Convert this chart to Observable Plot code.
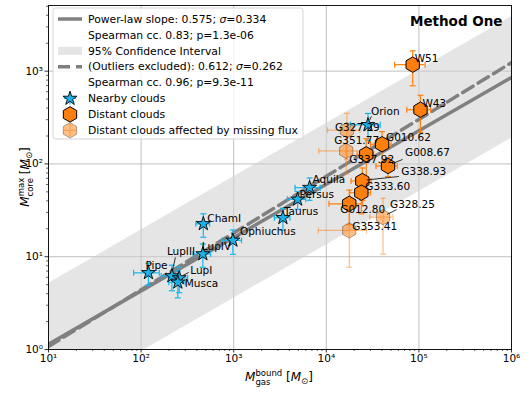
<!DOCTYPE html>
<html><head><meta charset="utf-8">
<script src="https://cdn.jsdelivr.net/npm/d3@7"></script>
<script src="https://cdn.jsdelivr.net/npm/@observablehq/plot@0.6"></script>
<style>
body{margin:0;background:#fff;}
#chart svg{font-family:"DejaVu Sans",sans-serif;}
</style></head><body><div id="chart"></div>
<script>
// ---- data ----
const nearbyNames   = ["Pipe","LupIII","LupI","Musca","LupIV","ChamI","Ophiuchus","Taurus","Persus","Aquila","Orion"];
const nearbyMgas    = [120, 215, 258, 249, 464, 470, 980, 3400, 4900, 6600, 28200];
const nearbyMcore   = [6.7, 6.2, 5.9, 5.3, 10.7, 22.6, 15, 26.3, 41.5, 55.5, 264];
const nearbyMgasErr = [37, 50, 60, 50, 100, 80, 235, 650, 1100, 2000, 10000];
const nearbyMcoreErr= [1.8, 1.9, 1.8, 1.7, 3, 6.4, 4.4, 7, 9, 15, 86];

const distantNames   = ["W51","W43","G010.62","G337.92","G008.67","G338.93","G333.60","G012.80"];
const distantMgas    = [85700, 104000, 40000, 27000, 46400, 24500, 23900, 17700];
const distantMcore   = [1175, 384, 163, 127, 95, 65.5, 49, 37.2];
const distantMgasErr = [31000, 30000, 10000, 5500, 12000, 6000, 6000, 7000];
const distantMcoreErr= [480, 165, 60, 60, 22, 25, 20, 15];

const mfNames   = ["G327.29","G351.77","G353.41","G328.25"];
const mfMgas    = [16700, 16400, 17700, 41000];
const mfMcore   = [231, 138, 19.2, 26.7];
const mfMgasErr = [6400, 8100, 9500, 11500];
const mfMcoreErr= [120, 60, 11.5, 16];

const fitSlopes = [0.575, 0.612];
const fitLogIntercepts = [-0.518, -0.580];
const fitSigma = [0.334, 0.262];
const spearmanCC = [0.83, 0.96];
const spearmanP = ["1.3e-06", "9.3e-11"];
const xTickValues = [1e1, 1e2, 1e3, 1e4, 1e5, 1e6];
const yTickValues = [1e0, 1e1, 1e2, 1e3];
const panelTitle = "Method One";

// label layout (pixel offsets: text start dx, center dy, optional leader end)
const labelLayout = {
  "Pipe":[-3,-7], "LupIII":[-5,-24,[4,-18]], "LupI":[11,-7,[10,-5]], "Musca":[7,1],
  "LupIV":[-1,-7], "ChamI":[4,-5], "Ophiuchus":[7,-9,[7,-4]], "Taurus":[1,-6],
  "Persus":[2,-5], "Aquila":[3,-8], "Orion":[3,-13,[4,-8]],
  "W51":[2,-6], "W43":[2,-6], "G010.62":[4,-7], "G337.92":[-17,5],
  "G008.67":[17,-13,[15,-6]], "G338.93":[39,-9,[37,-4]], "G333.60":[4,-6], "G012.80":[-9,6],
  "G327.29":[-12,-3], "G351.77":[-12,-10], "G353.41":[3,-4], "G328.25":[7,-13,[14,-7]]
};

// ---- build tables ----
const mk = (names, xs, ys, xe, ye) => names.map((name,i)=>({name, x:xs[i], y:ys[i], xe:xe[i], ye:ye[i]}));
const nearby = mk(nearbyNames, nearbyMgas, nearbyMcore, nearbyMgasErr, nearbyMcoreErr);
const distant = mk(distantNames, distantMgas, distantMcore, distantMgasErr, distantMcoreErr);
const missing = mk(mfNames, mfMgas, mfMcore, mfMgasErr, mfMcoreErr);
const allPts = [...nearby, ...distant, ...missing];

const fitX = xTickValues; // straight lines in log-log
const fitY = (k, x) => Math.pow(10, fitLogIntercepts[k] + fitSlopes[k]*Math.log10(x));
const band = 1.96*fitSigma[0];

const minorX = [], minorY = [];
xTickValues.slice(0,-1).forEach(v=>{for(let m=2;m<10;m++) minorX.push(v*m);});
[1,10,100,1000].forEach(v=>{for(let m=2;m<10;m++) if(v*m<=5100) minorY.push(v*m);});

const supMap = {"0":"⁰","1":"¹","2":"²","3":"³","4":"⁴","5":"⁵","6":"⁶","7":"⁷","8":"⁸","9":"⁹","-":"⁻"};
const fmtPow = v => "10" + String(Math.round(Math.log10(v))).split("").map(c=>supMap[c]).join("");

const hexagon = {draw(ctx, size){ const r=Math.sqrt(size/Math.PI); for(let i=0;i<6;i++){const a=Math.PI/3*i-Math.PI/2; const px=r*Math.cos(a), py=r*Math.sin(a); if(i) ctx.lineTo(px,py); else ctx.moveTo(px,py);} ctx.closePath(); }};
const capV = {draw(ctx,size){const r=Math.sqrt(size/Math.PI); ctx.moveTo(0,-r); ctx.lineTo(0,r);}};
const capH = {draw(ctx,size){const r=Math.sqrt(size/Math.PI); ctx.moveTo(-r,0); ctx.lineTo(r,0);}};

const CYAN = "#12b6ee", ORANGE = "#ff7f0e";
function errMarks(data, color, op){
  const s = {stroke: color, strokeOpacity: op, strokeWidth: 1.2};
  return [
    Plot.ruleY(data, {y:"y", x1:d=>d.x-d.xe, x2:d=>d.x+d.xe, ...s}),
    Plot.ruleX(data, {x:"x", y1:d=>Math.max(d.y-d.ye, 0.3), y2:d=>d.y+d.ye, ...s}),
    Plot.dot(data, {x:d=>d.x-d.xe, y:"y", symbol:capV, r:3, fill:"none", ...s}),
    Plot.dot(data, {x:d=>d.x+d.xe, y:"y", symbol:capV, r:3, fill:"none", ...s}),
    Plot.dot(data.filter(d=>d.y-d.ye>1), {x:"x", y:d=>d.y-d.ye, symbol:capH, r:3, fill:"none", ...s}),
    Plot.dot(data, {x:"x", y:d=>d.y+d.ye, symbol:capH, r:3, fill:"none", ...s}),
  ];
}

const plot = Plot.plot({
  width: 529, height: 394,
  marginLeft: 48, marginRight: 18, marginTop: 5, marginBottom: 45,
  x: {type:"log", domain:[10, 1e6], label:null},
  y: {type:"log", domain:[1, 5100], label:null},
  style: {fontFamily:"DejaVu Sans, sans-serif", fontSize:"10.5px", background:"white", color:"black"},
  marks: [
    Plot.gridX(xTickValues, {stroke:"#b0b0b0", strokeOpacity:1, strokeWidth:0.8}),
    Plot.gridY(yTickValues, {stroke:"#b0b0b0", strokeOpacity:1, strokeWidth:0.8}),
    Plot.areaY(fitX, {x:d=>d, y1:d=>fitY(0,d)/Math.pow(10,band), y2:d=>fitY(0,d)*Math.pow(10,band), fill:"#d0d0d0", fillOpacity:0.55, clip:true}),
    Plot.line(fitX, {x:d=>d, y:d=>fitY(0,d), stroke:"#808080", strokeWidth:3.5, clip:true}),
    Plot.line(fitX, {x:d=>d, y:d=>fitY(1,d), stroke:"#808080", strokeWidth:3.5, strokeDasharray:"12,6", clip:true}),
    ...errMarks(nearby, CYAN, 1),
    ...errMarks(distant, ORANGE, 1),
    ...errMarks(missing, ORANGE, 0.5),
    Plot.dot(nearby, {x:"x", y:"y", symbol:"star", r:4.4, fill:"#1ab2ea", stroke:"black", strokeWidth:0.9}),
    Plot.dot(distant, {x:"x", y:"y", symbol:hexagon, r:7.7, fill:ORANGE, stroke:"black", strokeWidth:1}),
    Plot.dot(missing, {x:"x", y:"y", symbol:hexagon, r:7.7, fill:ORANGE, fillOpacity:0.5, stroke:"black", strokeOpacity:0.3, strokeWidth:1}),
    ...allPts.map(p => Plot.text([p], {x:"x", y:"y", text:"name", textAnchor:"start", dx:labelLayout[p.name][0], dy:labelLayout[p.name][1], fontSize:10.5, fill:"black"})),
    Plot.text([panelTitle], {frameAnchor:"top-right", text:d=>d, dx:-9, dy:11, fontSize:13.5, fontWeight:"bold", fill:"black"}),
    Plot.axisX(minorX, {tickSize:2, tickFormat:()=>"", label:null, strokeWidth:0.6}),
    Plot.axisY(minorY, {tickSize:2, tickFormat:()=>"", label:null, strokeWidth:0.6}),
    Plot.axisX(xTickValues, {tickSize:3.5, tickPadding:2, tickFormat:fmtPow, label:null, fontSize:10.5, strokeWidth:0.8}),
    Plot.axisY(yTickValues, {tickSize:3.5, tickPadding:2, tickFormat:fmtPow, label:null, fontSize:10.5, strokeWidth:0.8}),
    Plot.frame({stroke:"black", strokeWidth:0.9}),
  ]
});
document.getElementById("chart").appendChild(plot);

// ---- post: leader lines, legend, axis labels ----
const svg = d3.select(plot);
const sx = plot.scale("x"), sy = plot.scale("y");
const leaders = svg.append("g").attr("stroke","black").attr("stroke-width",0.8);
allPts.forEach(p=>{
  const L = labelLayout[p.name][2]; if(!L) return;
  const px = sx.apply(p.x), py = sy.apply(p.y);
  const len = Math.hypot(L[0],L[1]); const s = Math.min(5, len*0.5)/len;
  leaders.append("line").attr("x1",px+L[0]*s).attr("y1",py+L[1]*s).attr("x2",px+L[0]).attr("y2",py+L[1]);
});

const lg = svg.append("g").attr("font-family","DejaVu Sans, sans-serif").attr("font-size",10.8).attr("text-anchor","start");
lg.append("rect").attr("x",53).attr("y",8).attr("width",250).attr("height",131).attr("rx",2.5)
  .attr("fill","white").attr("fill-opacity",0.8).attr("stroke","#cccccc").attr("stroke-width",0.8);
const rows = [
  {h:"solid", t:[`Power-law slope: ${fitSlopes[0]}; `, "σ", `=${fitSigma[0]}`]},
  {h:null, t:[`Spearman cc. ${spearmanCC[0]}; p=${spearmanP[0]}`]},
  {h:"band", t:["95% Confidence Interval"]},
  {h:"dash", t:[`(Outliers excluded): ${fitSlopes[1]}; `, "σ", `=${fitSigma[1]}`]},
  {h:null, t:[`Spearman cc. ${spearmanCC[1]}; p=${spearmanP[1]}`]},
  {h:"star", t:["Nearby clouds"]},
  {h:"hex", t:["Distant clouds"]},
  {h:"hexl", t:["Distant clouds affected by missing flux"]},
];
const rowY = i => 19 + i*15.9;
rows.forEach((r,i)=>{
  const y = rowY(i);
  if(r.h==="solid") lg.append("line").attr("x1",58).attr("x2",82).attr("y1",y).attr("y2",y).attr("stroke","#808080").attr("stroke-width",3.5);
  if(r.h==="dash") lg.append("line").attr("x1",58).attr("x2",82).attr("y1",y).attr("y2",y).attr("stroke","#808080").attr("stroke-width",3.5).attr("stroke-dasharray","12,6");
  if(r.h==="band") lg.append("rect").attr("x",58).attr("y",y-4).attr("width",24).attr("height",8).attr("fill","#d0d0d0").attr("fill-opacity",0.55);
  if(r.h==="star"||r.h==="hex"||r.h==="hexl"){
    const col = r.h==="star"?CYAN:ORANGE, op = r.h==="hexl"?0.5:1;
    const g = lg.append("g").attr("transform",`translate(70,${y})`);
    g.append("path").attr("d","M-6,0H6M0,-6V6").attr("stroke",col).attr("stroke-opacity",op).attr("stroke-width",1.2);
    const path = d3.path();
    if(r.h==="star"){ g.append("path").attr("d", d3.symbol(d3.symbolStar, 4.4*4.4*Math.PI)()).attr("fill","#1ab2ea").attr("stroke","black").attr("stroke-width",0.9); }
    else { hexagon.draw(path, 7.7*7.7*Math.PI); g.append("path").attr("d", path.toString()).attr("fill",ORANGE).attr("fill-opacity",op).attr("stroke","black").attr("stroke-opacity",r.h==="hexl"?0.3:1); }
  }
  const t = lg.append("text").attr("x",88).attr("y",y).attr("dy","0.35em").attr("fill","black").attr("text-anchor","start");
  r.t.forEach(s=>{ const ts=t.append("tspan").text(s); if(s==="σ") ts.attr("font-style","italic"); });
});

function mathLabel(g, sub, sup){
  const t = g.append("text").attr("text-anchor","middle").attr("font-size",12).attr("fill","black").attr("font-family","DejaVu Sans, sans-serif");
  t.append("tspan").attr("font-style","italic").text("M");
  const s1 = t.append("tspan").attr("font-size",8.5).attr("dy",-5).text(sup);
  const supLen = s1.node().getComputedTextLength();
  const s2 = t.append("tspan").attr("font-size",8.5).attr("dy",8.5).attr("dx",-supLen).text(sub);
  const subLen = s2.node().getComputedTextLength();
  t.append("tspan").attr("dy",-3.5).attr("dx",Math.max(0,supLen-subLen)).text(" [");
  t.append("tspan").attr("font-style","italic").text("M");
  t.append("tspan").attr("font-size",8.5).attr("dy",3).text("⊙");
  t.append("tspan").attr("dy",-3).text("]");
}
mathLabel(svg.append("g").attr("transform","translate(279,381)"), "gas", "bound");
mathLabel(svg.append("g").attr("transform","translate(29,177) rotate(-90)"), "core", "max");
</script></body></html>
